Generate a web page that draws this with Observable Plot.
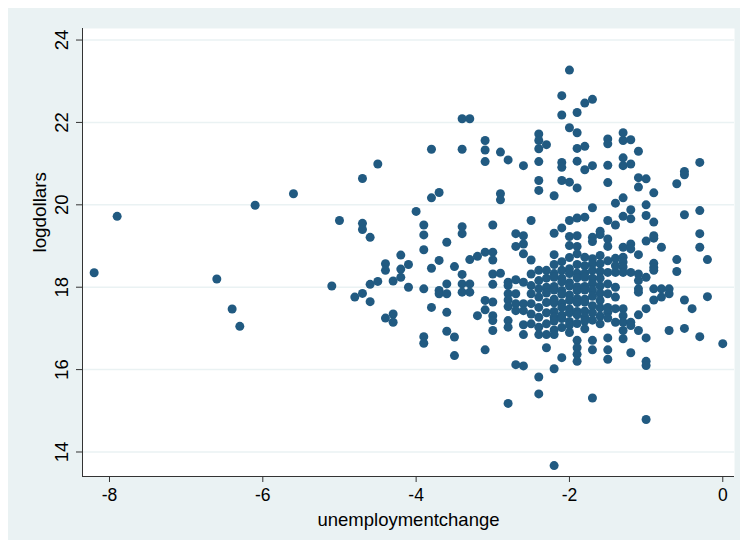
<!DOCTYPE html>
<html><head><meta charset="utf-8">
<script src="https://cdn.jsdelivr.net/npm/d3@7"></script>
<script src="https://cdn.jsdelivr.net/npm/@observablehq/plot@0.6"></script>
<style>
html,body{margin:0;padding:0;background:#fff;}
#wrap{position:absolute;left:8px;top:8px;width:732px;height:532px;background:#EAF2F3;}
#wrap svg{display:block;background:transparent;}
</style></head><body><div id="wrap"></div>
<script>
const unemploymentchange = [
  -8.2, -7.9, -6.6, -6.4, -6.3, -6.1, -5.6, -5.1, -5.0, -4.8,
  -4.7, -4.7, -4.7, -4.7,
  -4.6, -4.6, -4.6,
  -4.5, -4.5,
  -4.4, -4.4, -4.4,
  -4.3, -4.3, -4.3,
  -4.2, -4.2, -4.2,
  -4.1, -4.1,
  -4.0,
  -3.9, -3.9, -3.9, -3.9, -3.9, -3.9,
  -3.8, -3.8, -3.8, -3.8,
  -3.7, -3.7, -3.7, -3.7,
  -3.6, -3.6, -3.6, -3.6, -3.6,
  -3.5, -3.5, -3.5,
  -3.4, -3.4, -3.4, -3.4, -3.4, -3.4, -3.4,
  -3.3, -3.3, -3.3, -3.3,
  -3.2, -3.2,
  -3.1, -3.1, -3.1, -3.1, -3.1, -3.1, -3.1,
  -3.0, -3.0, -3.0, -3.0, -3.0, -3.0, -3.0, -3.0, -3.0,
  -2.9, -2.9, -2.9, -2.9,
  -2.8, -2.8, -2.8, -2.8, -2.8, -2.8, -2.8, -2.8, -2.8,
  -2.7, -2.7, -2.7, -2.7, -2.7, -2.7, -2.7,
  -2.6, -2.6, -2.6, -2.6, -2.6, -2.6, -2.6, -2.6, -2.6, -2.6,
  -2.5, -2.5, -2.5, -2.5, -2.5, -2.5, -2.5, -2.5,
  -2.4, -2.4, -2.4, -2.4, -2.4, -2.4, -2.4, -2.4, -2.4, -2.4, -2.4, -2.4, -2.4, -2.4, -2.4, -2.4,
  -2.3, -2.3, -2.3, -2.3, -2.3, -2.3, -2.3, -2.3, -2.3, -2.3,
  -2.2, -2.2, -2.2, -2.2, -2.2, -2.2, -2.2, -2.2, -2.2, -2.2, -2.2, -2.2, -2.2, -2.2, -2.2, -2.2, -2.2,
  -2.1, -2.1, -2.1, -2.1, -2.1, -2.1, -2.1, -2.1, -2.1, -2.1, -2.1, -2.1, -2.1, -2.1, -2.1, -2.1, -2.1, -2.1,
  -2.0, -2.0, -2.0, -2.0, -2.0, -2.0, -2.0, -2.0, -2.0, -2.0, -2.0, -2.0, -2.0, -2.0, -2.0, -2.0, -2.0, -2.0,
  -1.9, -1.9, -1.9, -1.9, -1.9, -1.9, -1.9, -1.9, -1.9, -1.9, -1.9, -1.9, -1.9, -1.9, -1.9, -1.9, -1.9, -1.9, -1.9, -1.9, -1.9, -1.9, -1.9,
  -1.8, -1.8, -1.8, -1.8, -1.8, -1.8, -1.8, -1.8, -1.8, -1.8, -1.8, -1.8, -1.8, -1.8, -1.8, -1.8,
  -1.7, -1.7, -1.7, -1.7, -1.7, -1.7, -1.7, -1.7, -1.7, -1.7, -1.7, -1.7, -1.7, -1.7, -1.7, -1.7, -1.7, -1.7,
  -1.6, -1.6, -1.6, -1.6, -1.6, -1.6, -1.6, -1.6, -1.6, -1.6, -1.6, -1.6,
  -1.5, -1.5, -1.5, -1.5, -1.5, -1.5, -1.5, -1.5, -1.5, -1.5, -1.5, -1.5, -1.5, -1.5, -1.5, -1.5, -1.5,
  -1.4, -1.4, -1.4, -1.4, -1.4, -1.4, -1.4, -1.4, -1.4,
  -1.3, -1.3, -1.3, -1.3, -1.3, -1.3, -1.3, -1.3, -1.3, -1.3, -1.3, -1.3, -1.3, -1.3, -1.3, -1.3,
  -1.2, -1.2, -1.2, -1.2, -1.2, -1.2, -1.2, -1.2, -1.2, -1.2,
  -1.1, -1.1, -1.1, -1.1, -1.1, -1.1, -1.1, -1.1, -1.1, -1.1,
  -1.0, -1.0, -1.0, -1.0, -1.0, -1.0, -1.0, -1.0, -1.0, -1.0,
  -0.9, -0.9, -0.9, -0.9, -0.9, -0.9, -0.9, -0.9, -0.9,
  -0.8, -0.8, -0.8,
  -0.7, -0.7, -0.7,
  -0.6, -0.6, -0.6,
  -0.5, -0.5, -0.5, -0.5, -0.5,
  -0.4,
  -0.3, -0.3, -0.3, -0.3, -0.3,
  -0.2, -0.2,
  0.0
];
const logdollars = [
  18.35, 19.72, 18.2, 17.47, 17.05, 19.99, 20.27, 18.03, 19.62, 17.76,
  20.64, 19.55, 19.40, 17.85,
  19.21, 18.07, 17.65,
  20.99, 18.14,
  18.57, 18.41, 17.25,
  18.15, 17.35, 17.15,
  18.78, 18.44, 18.24,
  18.55, 18.0,
  19.84,
  19.51, 19.27, 18.91, 17.96, 16.80, 16.64,
  21.35, 20.17, 18.46, 17.51,
  20.30, 18.65, 17.92, 17.84,
  19.09, 18.08, 17.84, 17.39, 16.93,
  18.50, 16.79, 16.34,
  22.09, 21.35, 19.47, 19.30, 18.31, 18.08, 17.88,
  22.09, 18.67, 18.08, 17.88,
  18.75, 17.31,
  21.56, 21.33, 21.05, 18.85, 17.68, 17.45, 16.48,
  19.51, 18.85, 18.66, 18.32, 18.07, 17.64, 17.31, 17.19, 16.95,
  21.28, 20.27, 20.12, 18.34,
  21.09, 18.12, 18.04, 17.84, 17.69, 17.53, 17.19, 17.03, 15.18,
  19.30, 18.99, 18.18, 17.84, 17.60, 17.43, 16.12,
  20.95, 19.25, 19.05, 18.81, 18.12, 17.60, 17.43, 17.09, 16.85, 16.09,
  19.62, 18.66, 18.32, 18.04, 17.84, 17.60, 17.35, 17.11,
  21.72, 21.56, 21.36, 21.05, 20.59, 20.35, 18.41, 18.16, 17.96, 17.76, 17.51, 17.27, 17.03, 16.85, 15.82, 15.41,
  21.46, 18.41, 18.22, 18.0, 17.86, 17.63, 17.38, 17.11, 16.85, 16.53,
  20.22, 19.31, 18.79, 18.55, 18.33, 18.24, 18.02, 17.93, 17.71, 17.62, 17.41, 17.27, 17.18, 16.96, 16.85, 16.02, 13.67,
  22.65, 22.18, 21.03, 20.91, 20.59, 19.44, 18.62, 18.41, 18.22, 18.13, 17.92, 17.83, 17.61, 17.51, 17.32, 17.24, 17.02, 16.29,
  23.27, 21.87, 20.55, 19.62, 19.23, 19.01, 18.72, 18.45, 18.33, 18.11, 18.03, 17.81, 17.68, 17.47, 17.38, 17.17, 17.08, 16.9,
  22.24, 21.75, 21.37, 21.06, 20.41, 19.68, 19.25, 18.99, 18.81, 18.55, 18.34, 18.23, 18.01, 17.92, 17.72, 17.63, 17.41, 17.33, 17.12, 16.71, 16.53, 16.37, 16.20,
  22.47, 21.42, 20.85, 19.70, 18.73, 18.52, 18.34, 18.24, 18.02, 17.93, 17.71, 17.64, 17.42, 17.27, 17.18, 16.99,
  22.56, 20.95, 19.93, 19.21, 19.11, 18.69, 18.57, 18.41, 18.22, 18.09, 17.93, 17.78, 17.55, 17.38, 17.2, 16.71, 16.48, 15.31,
  19.36, 19.28, 18.77, 18.57, 18.38, 18.22, 18.03, 17.85, 17.68, 17.5, 17.3, 17.11,
  21.60, 21.48, 20.96, 20.54, 19.62, 19.17, 18.99, 18.64, 18.36, 18.08, 17.84, 17.51, 17.39, 17.25, 16.77, 16.48, 16.25,
  20.04, 19.51, 18.70, 18.52, 18.36, 18.0, 17.76, 17.48, 17.15,
  21.75, 21.56, 21.14, 20.95, 20.17, 19.72, 18.97, 18.73, 18.61, 18.49, 18.36, 17.48, 17.31, 17.15, 16.95, 16.75,
  21.58, 20.99, 19.88, 19.66, 19.05, 18.93, 18.36, 17.15, 17.07, 16.41,
  21.30, 20.66, 20.43, 18.79, 18.32, 18.16, 17.96, 17.88, 17.33, 16.95,
  20.63, 20.0, 19.74, 19.12, 18.24, 17.48, 16.77, 16.20, 16.10, 14.79,
  20.29, 19.58, 19.25, 19.19, 18.58, 18.48, 18.41, 17.96, 17.69,
  18.97, 17.96, 17.76,
  17.96, 17.84, 16.95,
  20.51, 18.67, 18.38,
  20.81, 20.73, 19.76, 17.69, 17.00,
  17.48,
  21.03, 19.86, 19.30, 18.97, 16.80,
  18.67, 17.77,
  16.63
];
const xTicks = [-8, -6, -4, -2, 0];
const yTicks = [14, 16, 18, 20, 22, 24];
const xTitle = "unemploymentchange";
const yTitle = "logdollars";

if (unemploymentchange.length !== logdollars.length) console.error("length mismatch", unemploymentchange.length, logdollars.length);
const data = unemploymentchange.map((x, i) => ({x, y: logdollars[i]}));
const xDomain = [-8.352, 0.153];
const yDomain = [13.405, 24.28];
const fmt = d => String(d);

const chart = Plot.plot({
  width: 732, height: 532,
  marginLeft: 74, marginTop: 20, marginRight: 6, marginBottom: 64,
  style: {background: "transparent", fontFamily: "'Liberation Sans', Arial, sans-serif", fontSize: "18px", color: "#000"},
  x: {domain: xDomain},
  y: {domain: yDomain},
  marks: [
    Plot.frame({fill: "white", stroke: "none"}),
    Plot.gridY(yTicks, {stroke: "#EAF2F3", strokeOpacity: 1, strokeWidth: 1.5}),
    Plot.ruleX([xDomain[0]], {stroke: "#333"}),
    Plot.ruleY([yDomain[0]], {stroke: "#333"}),
    Plot.axisX({ticks: xTicks, tickFormat: fmt, tickSize: 6, tickPadding: 6, fontSize: 17.5, label: null, stroke: "#333"}),
    Plot.axisY({ticks: yTicks, tickFormat: fmt, tickSize: 6, tickPadding: 9, tickRotate: -90, fontSize: 18.5, label: null, stroke: "#333"}),
    Plot.dot(data, {x: "x", y: "y", r: 4.5, fill: "#215a81", stroke: "none"}),
    Plot.text([xTitle], {frameAnchor: "bottom", dy: 44, text: d => d, fontSize: 18.5, lineAnchor: "middle", fill: "#000"}),
    Plot.text([yTitle], {frameAnchor: "left", dx: -43, rotate: -90, text: d => d, fontSize: 18.8, lineAnchor: "middle", fill: "#000"})
  ]
});
document.getElementById("wrap").appendChild(chart);
</script>
</body></html>
